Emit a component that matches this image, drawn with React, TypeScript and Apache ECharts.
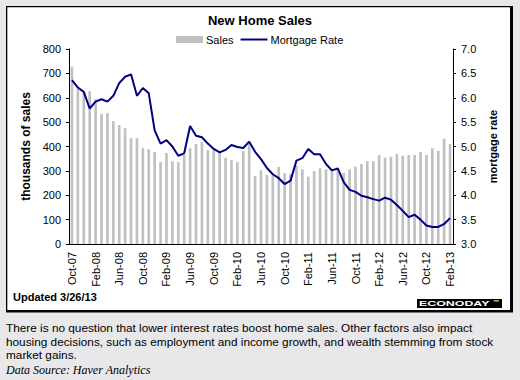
import React, { useEffect, useRef } from 'react';
import * as echarts from 'echarts';

const months = [
  'Oct-07', 'Nov-07', 'Dec-07',
  'Jan-08', 'Feb-08', 'Mar-08', 'Apr-08', 'May-08', 'Jun-08', 'Jul-08', 'Aug-08', 'Sep-08', 'Oct-08', 'Nov-08', 'Dec-08',
  'Jan-09', 'Feb-09', 'Mar-09', 'Apr-09', 'May-09', 'Jun-09', 'Jul-09', 'Aug-09', 'Sep-09', 'Oct-09', 'Nov-09', 'Dec-09',
  'Jan-10', 'Feb-10', 'Mar-10', 'Apr-10', 'May-10', 'Jun-10', 'Jul-10', 'Aug-10', 'Sep-10', 'Oct-10', 'Nov-10', 'Dec-10',
  'Jan-11', 'Feb-11', 'Mar-11', 'Apr-11', 'May-11', 'Jun-11', 'Jul-11', 'Aug-11', 'Sep-11', 'Oct-11', 'Nov-11', 'Dec-11',
  'Jan-12', 'Feb-12', 'Mar-12', 'Apr-12', 'May-12', 'Jun-12', 'Jul-12', 'Aug-12', 'Sep-12', 'Oct-12', 'Nov-12', 'Dec-12',
  'Jan-13', 'Feb-13',
];

// thousands of sales (left axis)
const sales = [
  727, 638, 620,
  627, 594, 533, 537, 504, 488, 475, 434, 434, 393, 389, 377,
  336, 373, 340, 336, 365, 393, 410, 418, 385, 388, 378, 354,
  344, 336, 381, 422, 279, 303, 283, 283, 316, 291, 288, 322,
  307, 276, 299, 311, 307, 307, 303, 292, 307, 317, 328, 340,
  340, 365, 354, 358, 369, 362, 365, 365, 377, 365, 393, 383,
  432, 410,
];

// mortgage rate, % (right axis)
const mortgageRate = [
  6.36, 6.21, 6.12,
  5.78, 5.92, 5.97, 5.92, 6.04, 6.30, 6.43, 6.48, 6.04, 6.20, 6.09, 5.33,
  5.06, 5.13, 5.00, 4.81, 4.86, 5.42, 5.22, 5.19, 5.06, 4.95, 4.88, 4.93,
  5.03, 4.99, 4.97, 5.10, 4.89, 4.74, 4.56, 4.43, 4.35, 4.23, 4.30, 4.71,
  4.76, 4.95, 4.84, 4.84, 4.64, 4.51, 4.55, 4.27, 4.11, 4.07, 3.99, 3.96,
  3.92, 3.89, 3.95, 3.91, 3.80, 3.68, 3.55, 3.60, 3.50, 3.38, 3.35, 3.35,
  3.41, 3.53,
];

const FONT = '"Liberation Sans", Arial, sans-serif';

const noteLines = [
  'There is no question that lower interest rates boost home sales. Other factors also impact',
  'housing decisions, such as employment and income growth, and wealth stemming from stock',
  'market gains.',
];

export default function App() {
  const ref = useRef<HTMLDivElement>(null);

  useEffect(() => {
    document.body.style.margin = '0';
    if (!ref.current) return;
    const chart = echarts.init(ref.current, null, { renderer: 'svg' });
    chart.setOption({
      animation: false,
      textStyle: { fontFamily: FONT, color: '#000' },
      title: {
        text: 'New Home Sales',
        left: 'center',
        top: 14,
        padding: 0,
        textStyle: { fontFamily: FONT, fontSize: 13, fontWeight: 'bold', color: '#000' },
      },
      legend: {
        left: 176,
        top: 34,
        padding: 0,
        itemWidth: 27,
        itemHeight: 7,
        itemGap: 6,
        textStyle: { fontFamily: FONT, fontSize: 11, color: '#000', padding: [0, 0, 0, -2] },
        data: [
          { name: 'Sales', icon: 'rect' },
          { name: 'Mortgage Rate', itemStyle: { opacity: 0 } },
        ],
      },
      grid: { left: 69, right: 67, top: 49, bottom: 136, containLabel: false },
      xAxis: {
        type: 'category',
        data: months,
        boundaryGap: true,
        axisLine: { lineStyle: { color: '#000', width: 1 } },
        axisTick: { interval: 2, length: 3, lineStyle: { color: '#000' } },
        axisLabel: {
          interval: 3,
          rotate: 90,
          margin: 8,
          fontSize: 11,
          fontFamily: FONT,
          color: '#000',
        },
        splitLine: { show: false },
      },
      yAxis: [
        {
          type: 'value',
          min: 0,
          max: 800,
          interval: 100,
          name: 'thousands of sales',
          nameLocation: 'middle',
          nameRotate: 90,
          nameGap: 33,
          nameTextStyle: { fontFamily: FONT, fontSize: 12, fontWeight: 'bold', color: '#000' },
          axisLine: { show: true, lineStyle: { color: '#000', width: 1 } },
          axisTick: { show: true, length: 3, lineStyle: { color: '#000' } },
          axisLabel: { margin: 8, fontSize: 11, fontFamily: FONT, color: '#000' },
          splitLine: { show: false },
        },
        {
          type: 'value',
          min: 3,
          max: 7,
          interval: 0.5,
          position: 'right',
          name: 'mortgage rate',
          nameLocation: 'middle',
          nameRotate: 90,
          nameGap: 25,
          nameTextStyle: { fontFamily: FONT, fontSize: 11, fontWeight: 'bold', color: '#000' },
          axisLine: { show: true, lineStyle: { color: '#000', width: 1 } },
          axisTick: { show: true, length: 3, lineStyle: { color: '#000' } },
          axisLabel: {
            margin: 8,
            fontSize: 11,
            fontFamily: FONT,
            color: '#000',
            formatter: (v: number) => v.toFixed(1),
          },
          splitLine: { show: false },
        },
      ],
      series: [
        {
          name: 'Sales',
          type: 'bar',
          yAxisIndex: 0,
          data: sales,
          barWidth: '45%',
          itemStyle: { color: '#c0c0c0' },
        },
        {
          name: 'Mortgage Rate',
          type: 'line',
          yAxisIndex: 1,
          data: mortgageRate,
          symbol: 'none',
          showSymbol: false,
          lineStyle: { color: '#000080', width: 2 },
          itemStyle: { color: '#000080' },
          z: 3,
        },
      ],
      graphic: [
        {
          type: 'rect',
          silent: true,
          z: -20,
          shape: { x: 6, y: 6, width: 507, height: 306.5 },
          style: { fill: '#000' },
        },
        {
          type: 'rect',
          silent: true,
          z: -19,
          shape: { x: 7.3, y: 7.3, width: 502.7, height: 302.7 },
          style: { fill: '#fff' },
        },
        {
          type: 'text',
          x: 13,
          y: 297,
          style: {
            text: 'Updated 3/26/13',
            font: 'bold 11px ' + FONT,
            fill: '#000',
            verticalAlign: 'middle',
            align: 'left',
          },
        },
        {
          type: 'rect',
          shape: { x: 417, y: 299, width: 85, height: 9 },
          style: { fill: '#000' },
        },
        {
          type: 'text',
          x: 419,
          y: 303.8,
          scaleX: 1.55,
          style: {
            text: 'ECONODAY',
            font: 'bold 8px ' + FONT,
            fill: '#fff',
            verticalAlign: 'middle',
            align: 'left',
          },
        },
        {
          type: 'text',
          x: 493,
          y: 302,
          style: {
            text: '™',
            font: 'bold 6px ' + FONT,
            fill: '#fff',
            verticalAlign: 'middle',
            align: 'left',
          },
        },
        {
          type: 'text',
          x: 6,
          y: 321.7,
          style: {
            text: noteLines.join('\n'),
            font: '11.8px ' + FONT,
            lineHeight: 13.3,
            fill: '#000',
            verticalAlign: 'top',
            align: 'left',
          },
        },
        {
          type: 'text',
          x: 6,
          y: 369.5,
          style: {
            text: 'Data Source: Haver Analytics',
            font: 'italic 12px "Liberation Serif", "Times New Roman", serif',
            fill: '#000',
            verticalAlign: 'middle',
            align: 'left',
          },
        },
      ],
    });
    return () => chart.dispose();
  }, []);

  return (
    <div style={{ width: 520, height: 380, background: '#e8e8ea' }}>
      <div ref={ref} style={{ width: 520, height: 380 }} />
    </div>
  );
}
